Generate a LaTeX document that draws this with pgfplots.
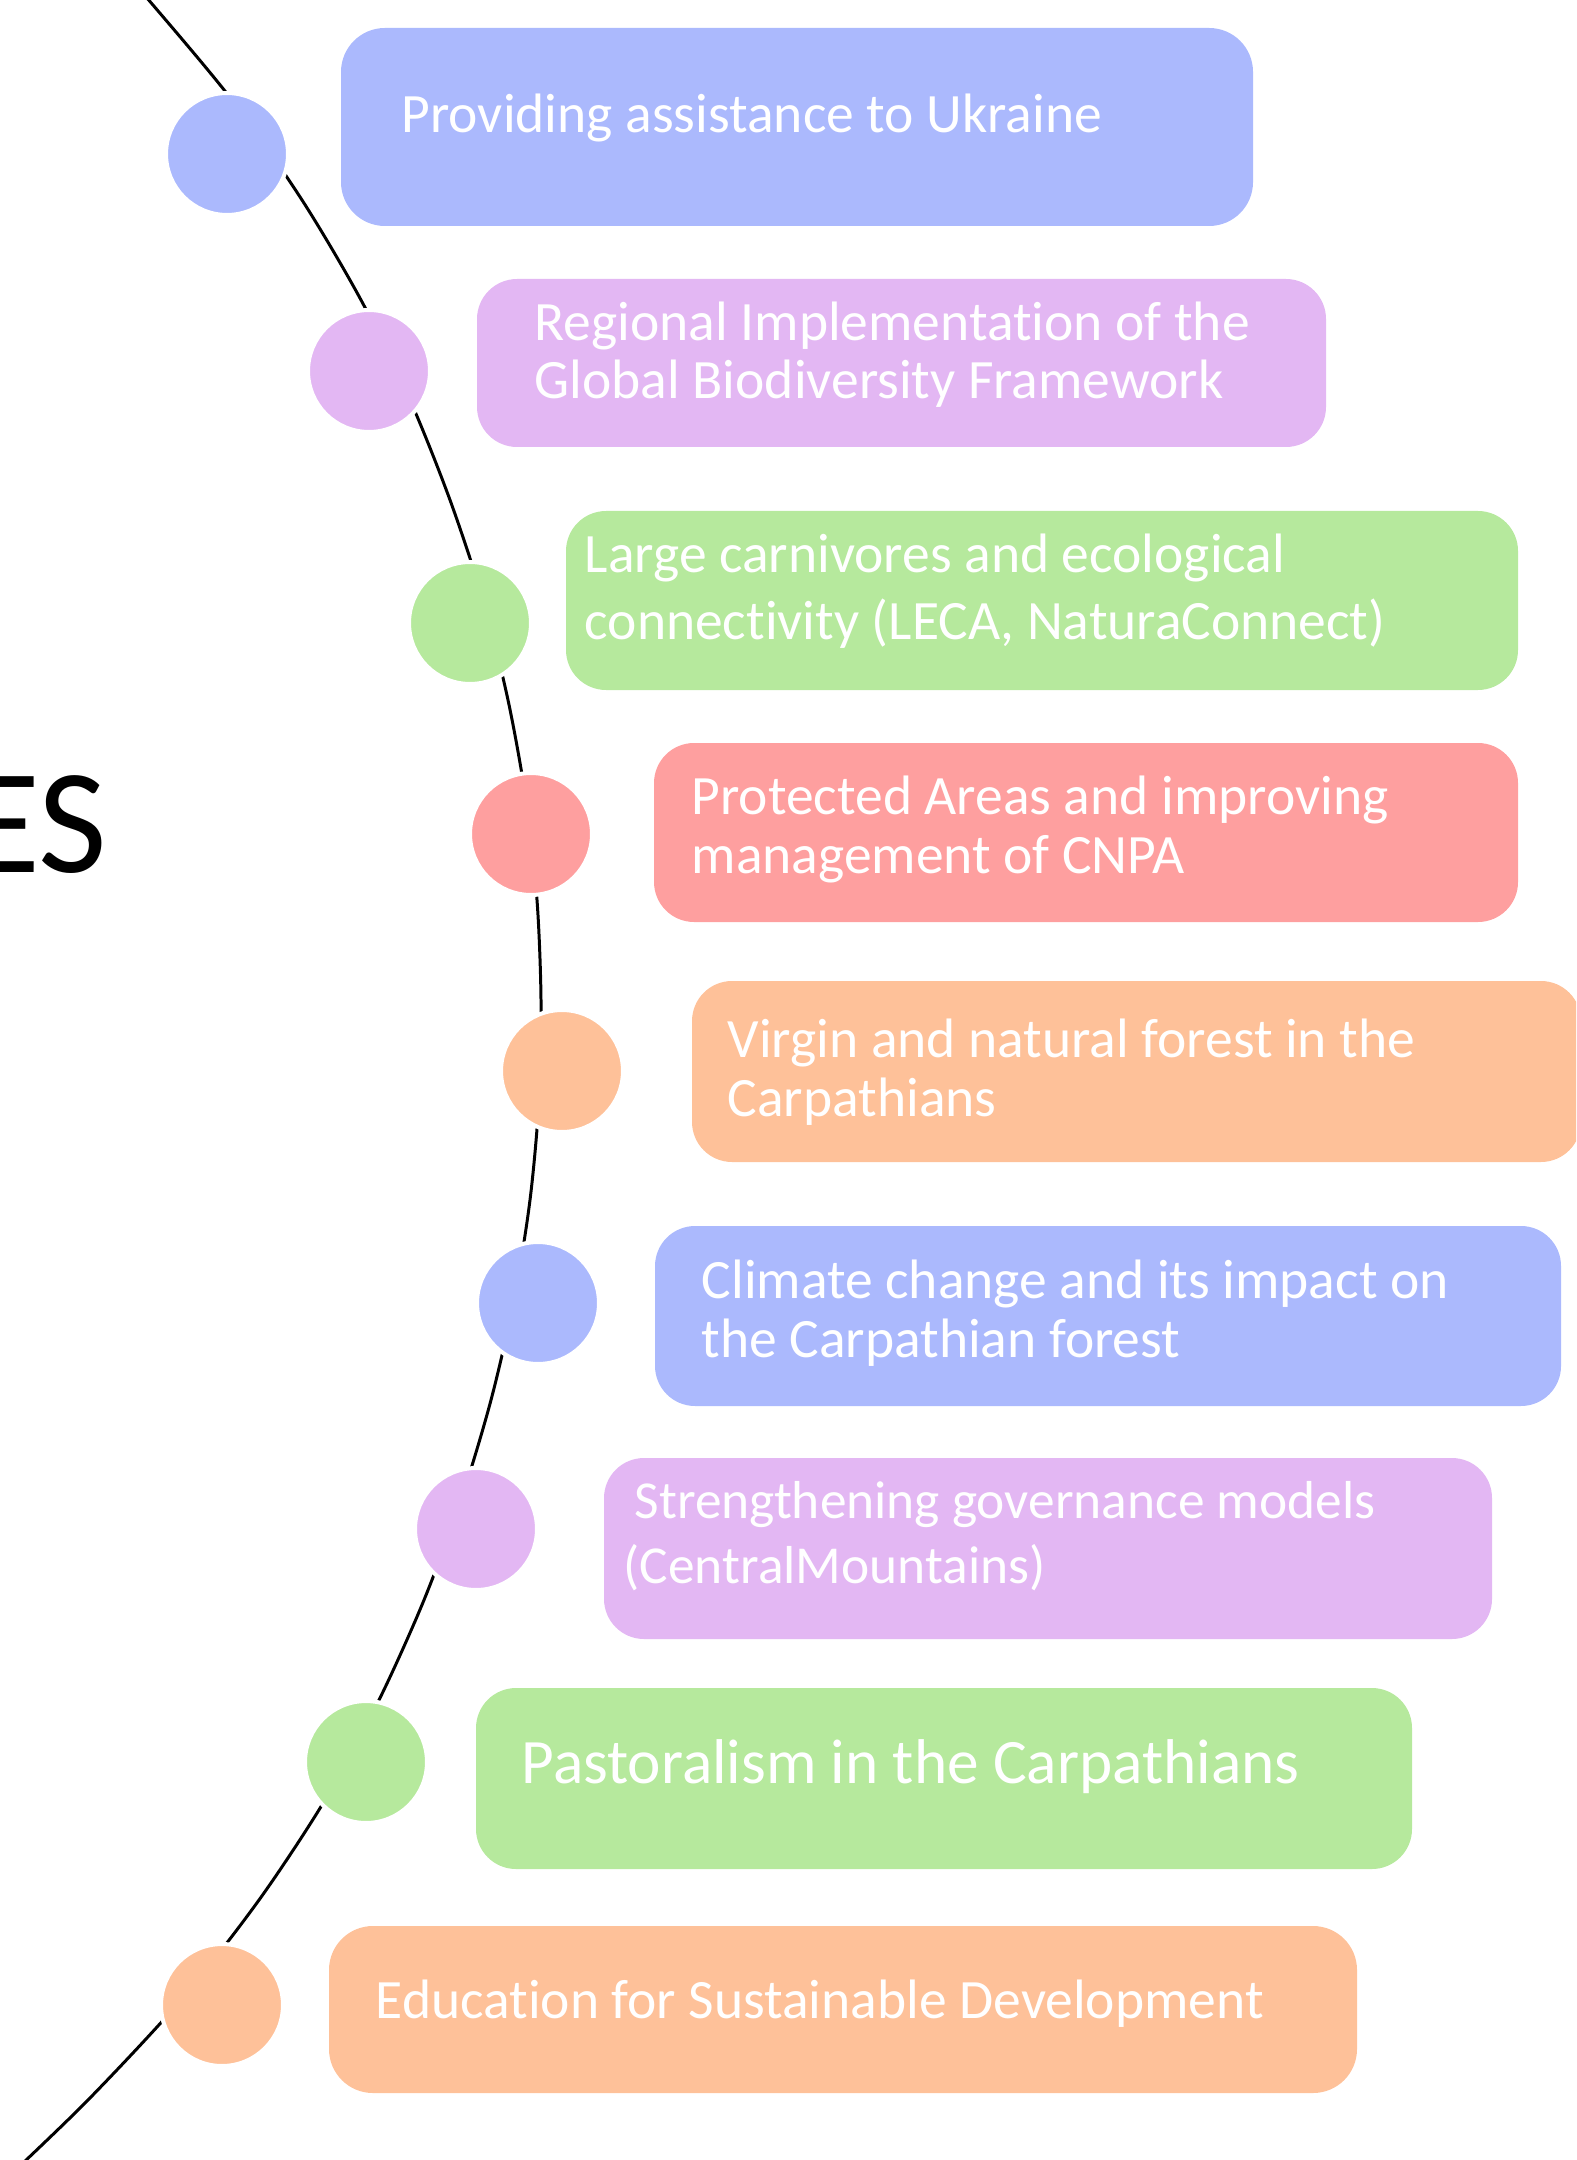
\documentclass[border=0pt]{standalone}
\usepackage{pgfplots}
\pgfplotsset{compat=1.18}
\usepackage{fontspec}
\setmainfont{Carlito}[Ligatures={NoCommon}]
\definecolor{cB}{RGB}{171,185,253}
\definecolor{cP}{RGB}{227,183,243}
\definecolor{cG}{RGB}{182,233,157}
\definecolor{cR}{RGB}{254,159,159}
\definecolor{cO}{RGB}{254,193,153}
\newcommand{\boxfont}{\fontsize{15.8pt}{18pt}\selectfont}
\begin{document}
\begin{tikzpicture}
\begin{axis}[hide axis, scale only axis, width=15.76cm, height=21.6cm,
  xmin=0, xmax=1576, ymin=0, ymax=2160, y dir=reverse, clip=true]
% boxes
\addplot[draw=none, fill=cB, rounded corners=12.5pt] coordinates {(800,28) (1253,28) (1253,226) (341,226) (341,28)} -- cycle;
\addplot[draw=none, fill=cP, rounded corners=11.4pt] coordinates {(900,279) (1326,279) (1326,447) (477,447) (477,279)} -- cycle;
\addplot[draw=none, fill=cG, rounded corners=11.4pt] coordinates {(1000,511) (1518,511) (1518,690) (566,690) (566,511)} -- cycle;
\addplot[draw=none, fill=cR, rounded corners=11.4pt] coordinates {(1000,743) (1518,743) (1518,922) (654,922) (654,743)} -- cycle;
\addplot[draw=none, fill=cO, rounded corners=11.4pt] coordinates {(1000,981) (1581,981) (1581,1162) (692,1162) (692,981)} -- cycle;
\addplot[draw=none, fill=cB, rounded corners=11.4pt] coordinates {(1000,1226) (1561,1226) (1561,1406) (655,1406) (655,1226)} -- cycle;
\addplot[draw=none, fill=cP, rounded corners=11.4pt] coordinates {(1000,1458) (1492,1458) (1492,1639) (604,1639) (604,1458)} -- cycle;
\addplot[draw=none, fill=cG, rounded corners=11.4pt] coordinates {(1000,1688) (1412,1688) (1412,1869) (476,1869) (476,1688)} -- cycle;
\addplot[draw=none, fill=cO, rounded corners=12.5pt] coordinates {(900,1926) (1357,1926) (1357,2093) (329,2093) (329,1926)} -- cycle;
% arc
\addplot[black, line width=0.85pt, smooth] coordinates {
(130,-20) (148.7,0) (232,100) (302,200) (361,300) (410,400) (450,500)
(483,600) (508,700) (526,800) (537,900) (541,1000) (539,1100) (530,1200)
(514,1300) (491,1400) (461,1500) (424,1600) (379,1700) (325,1800)
(259,1900) (181,2000) (88,2100) (5,2180)};
% circles
\addplot[only marks, mark=*, mark size=17.35pt, mark options={fill=cB, draw=white, line width=1.14pt}] coordinates {(227,154) (538,1303)};
\addplot[only marks, mark=*, mark size=17.35pt, mark options={fill=cP, draw=white, line width=1.14pt}] coordinates {(369,371) (476,1529)};
\addplot[only marks, mark=*, mark size=17.35pt, mark options={fill=cG, draw=white, line width=1.14pt}] coordinates {(470,623) (366,1762)};
\addplot[only marks, mark=*, mark size=17.35pt, mark options={fill=cR, draw=white, line width=1.14pt}] coordinates {(531,834)};
\addplot[only marks, mark=*, mark size=17.35pt, mark options={fill=cO, draw=white, line width=1.14pt}] coordinates {(562,1071) (222,2005)};
% texts
\begin{scope}[every node/.style={anchor=base west, inner sep=0pt, text=white, font=\boxfont}]
\node at (axis cs:401,133) {Providing assistance to Ukraine};
\node at (axis cs:534,341) {Regional Implementation of the};
\node at (axis cs:534,399) {Global Biodiversity Framework};
\node at (axis cs:584,573) {Large carnivores and ecological};
\node at (axis cs:584,639) {connectivity (LECA, NaturaConnect)};
\node at (axis cs:691,814) {Protected Areas and improving};
\node at (axis cs:691,873) {management of CNPA};
\node at (axis cs:727,1057) {Virgin and natural forest in the};
\node at (axis cs:727,1116) {Carpathians};
\node at (axis cs:701,1298) {Climate change and its impact on};
\node at (axis cs:701,1357) {the Carpathian forest};
\node[font=\fontsize{15.2pt}{18pt}\selectfont] at (axis cs:634,1518) {Strengthening governance models};
\node[font=\fontsize{15.2pt}{18pt}\selectfont] at (axis cs:623,1583) {(CentralMountains)};
\node[font=\fontsize{18pt}{21pt}\selectfont] at (axis cs:521,1783) {Pastoralism in the Carpathians};
\node at (axis cs:375,2018) {Education for Sustainable Development};
\end{scope}
\node[anchor=base east, inner sep=0pt, font=\fontsize{42.5pt}{48pt}\selectfont] at (axis cs:108,872) {ES};
\end{axis}
\pgfresetboundingbox
\path (current axis.south west) rectangle (current axis.north east);
\end{tikzpicture}
\end{document}
